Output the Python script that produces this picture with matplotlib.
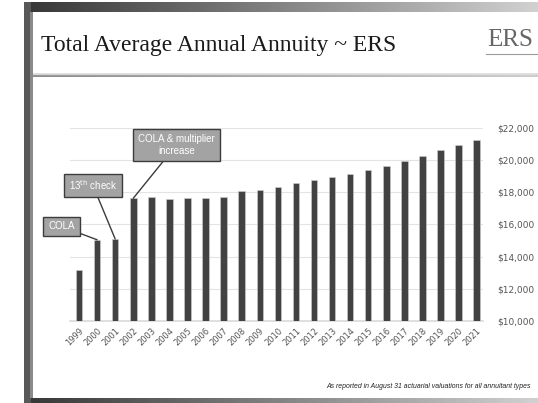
import numpy as np
import matplotlib
matplotlib.use('Agg')
from matplotlib import pyplot as plt
from matplotlib.patches import Rectangle

# data
years = [str(y) for y in range(1999, 2022)]
annuity = [13200, 15050, 15100, 17630, 17690, 17600, 17670, 17630, 17690,
           18080, 18170, 18350, 18600, 18790, 18930, 19140, 19360, 19650,
           19920, 20260, 20610, 20940, 21270]
y_ticks = [10000, 12000, 14000, 16000, 18000, 20000, 22000]
notes = ['COLA', '13$^{\\rm th}$ check', 'COLA & multiplier\nincrease']
note_years = ['2000', '2001', '2002']

W, H = 538, 403
fig = plt.figure(figsize=(W / 100, H / 100), dpi=100)
fig.patch.set_facecolor('white')

def fx(px):
    return px / W

def fy(py):
    return 1 - py / H

# slide frame
grad = np.linspace(0, 1, 256).reshape(1, -1)
top = fig.add_axes([fx(24), fy(12), fx(W - 24), (12 - 2) / H])
top.imshow(grad, aspect='auto', cmap='gray', vmin=-0.35, vmax=1.3)
top.axis('off')
bot = fig.add_axes([fx(24), 0, fx(W - 24), (H - 398) / H])
bot.imshow(grad, aspect='auto', cmap='gray', vmin=-0.35, vmax=1.3)
bot.axis('off')
fig.patches.append(Rectangle((fx(24), 0), fx(7), fy(2), transform=fig.transFigure,
                             facecolor='#585858', edgecolor='none'))
fig.patches.append(Rectangle((fx(30), fy(398)), fx(3), (398 - 12) / H, transform=fig.transFigure,
                             facecolor='#8a8a8a', edgecolor='none'))

# title + separator
fig.text(fx(41), fy(45), 'Total Average Annual Annuity ~ ERS', fontsize=17,
         family='Liberation Serif', color='#1a1a1a', va='center', ha='left')
sep = fig.add_axes([fx(33), fy(77), fx(W - 33), 4 / H])
sep.imshow(np.vstack([grad * 0 + 0.88, grad * 0.25 + 0.55]), aspect='auto', cmap='gray', vmin=0, vmax=1)
sep.axis('off')

# logo
fig.text(fx(487), fy(40), 'ERS', fontsize=18, family='Liberation Serif', color='#666666',
         va='center', ha='left')
fig.lines.append(plt.Line2D([fx(486), fx(538)], [fy(54), fy(54)], transform=fig.transFigure,
                            color='#9a9a9a', lw=0.8))

# chart
ax = fig.add_axes([fx(70), fy(321), fx(483 - 70), (321 - 128) / H])
x = np.arange(len(years))
ax.bar(x, annuity, width=0.36, color='#424242', edgecolor='#cfcfcf', linewidth=0.4, zorder=3)
ax.set_ylim(10000, 22000)
ax.set_xlim(-0.5, 22.35)
ax.set_yticks(y_ticks)
ax.set_yticklabels(['${:,}'.format(v) for v in y_ticks])
ax.yaxis.tick_right()
ax.tick_params(axis='y', length=0, pad=10, labelsize=6.5, labelcolor='#555555')
ax.set_xticks(x)
ax.set_xticklabels(years, rotation=45, ha='right', rotation_mode='anchor')
ax.tick_params(axis='x', length=0, pad=4, labelsize=6, labelcolor='#555555')
ax.grid(axis='y', color='#e3e3e3', lw=0.8, zorder=0)
for s in ['top', 'left', 'right']:
    ax.spines[s].set_visible(False)
ax.spines['bottom'].set_color('#d9d9d9')
ax.spines['bottom'].set_linewidth(1.2)
ax.set_facecolor('none')

# callouts
box_xy = [(-0.97, 15880), (0.77, 18430), (5.39, 20950)]
for txt, yr, (tx, ty) in zip(notes, note_years, box_xy):
    i = years.index(yr)
    ax.annotate(txt, xy=(i, annuity[i]), xytext=(tx, ty), textcoords='data',
                ha='center', va='center', fontsize=7, color='white',
                family='Liberation Sans', linespacing=1.25,
                bbox=dict(boxstyle='square,pad=0.5', fc='#a3a3a3', ec='#3c3c3c', lw=1),
                arrowprops=dict(arrowstyle='-', color='#3c3c3c', lw=1, shrinkA=0, shrinkB=0),
                zorder=5, annotation_clip=False)

# footnote
fig.text(fx(326), fy(386), 'As reported in August 31 actuarial valuations for all annuitant types',
         fontsize=4.95, style='italic', family='Liberation Sans', color='#222222', va='center', ha='left')

fig.savefig('out.png', dpi=100)
